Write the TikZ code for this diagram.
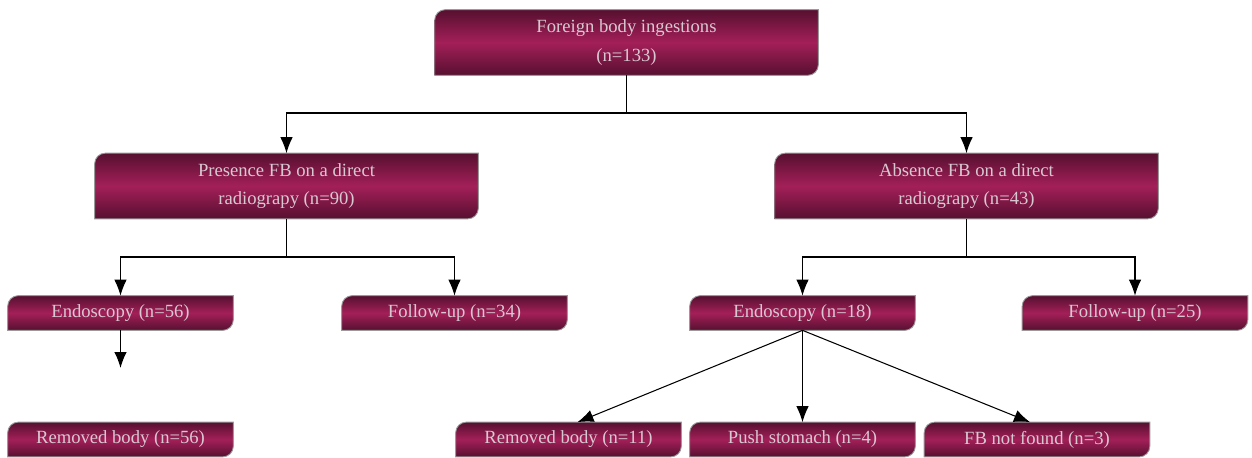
\documentclass[tikz,border=0pt]{standalone}
\usepackage{fontspec}
\setmainfont{Liberation Serif}
\usetikzlibrary{arrows.meta,backgrounds}
\definecolor{bxdark}{HTML}{561030}
\definecolor{bxmid}{HTML}{A31F58}
\definecolor{bxtext}{HTML}{D8C8D2}
\definecolor{bxedge}{HTML}{9A9A9A}
\tikzset{
  boxnode/.style={inner sep=0pt, text=bxtext, align=center,
    font=\fontsize{10.6pt}{16pt}\selectfont},
  bigbox/.style={boxnode, minimum width=7.66cm, minimum height=1.3cm},
  smallbox/.style={boxnode, minimum width=4.5cm, minimum height=0.68cm},
  boxshade/.style={top color=bxdark, bottom color=bxdark, middle color=bxmid, draw=bxedge, line width=0.5pt},
  arr/.style={draw=black, line width=0.6pt, -{Latex[length=0.32cm,width=0.25cm]}},
  ln/.style={draw=black, line width=0.6pt}
}
\newcommand{\boxbg}[1]{%
  \begin{scope}[on background layer]
  \path[boxshade] (#1.south west) -- ([yshift=-6pt]#1.north west) arc[start angle=180,end angle=90,radius=6pt]
    -- (#1.north east) -- ([yshift=6pt]#1.south east) arc[start angle=0,end angle=-90,radius=6pt] -- cycle;
  \end{scope}}
\begin{document}
\begin{tikzpicture}[x=0.02cm,y=0.02cm]
\useasboundingbox (0,0) rectangle (1252,457);
\node[bigbox] (top) at (626.5,414.5) {Foreign body ingestions\\(n=133)};
\node[bigbox] (pres) at (286.5,271) {Presence FB on a direct\\radiograpy (n=90)};
\node[bigbox] (abs) at (966.5,271) {Absence FB on a direct\\radiograpy (n=43)};
\node[smallbox] (e56) at (120.5,144) {Endoscopy (n=56)};
\node[smallbox] (f34) at (454.5,144) {Follow-up (n=34)};
\node[smallbox] (e18) at (802.5,144) {Endoscopy (n=18)};
\node[smallbox] (f25) at (1135,144) {Follow-up (n=25)};
\node[smallbox] (r56) at (120.5,17.5) {Removed body (n=56)};
\node[smallbox] (r11) at (568.5,17.5) {Removed body (n=11)};
\node[smallbox] (ps) at (802.5,17.5) {Push stomach (n=4)};
\node[smallbox] (fb) at (1037,17.5) {FB not found (n=3)};
\foreach \n in {top,pres,abs,e56,f34,e18,f25,r56,r11,ps,fb}{\boxbg{\n}}
\coordinate (j1) at (626.5,344);
\coordinate (j2) at (286.5,200);
\coordinate (j3) at (966.5,200);
\coordinate (e56end) at (120.5,89);
\draw[ln] (top.south) -- (j1);
\draw[arr] (j1) -| (pres.north);
\draw[arr] (j1) -| (abs.north);
\draw[ln] (pres.south) -- (j2);
\draw[arr] (j2) -| (e56.north);
\draw[arr] (j2) -| (f34.north);
\draw[ln] (abs.south) -- (j3);
\draw[arr] (j3) -| (e18.north);
\draw[arr] (j3) -| (f25.north);
\draw[arr] (e56.south) -- (e56end);
\draw[arr] (e18.south) -- ([xshift=0.18cm]r11.north);
\draw[arr] (e18.south) -- (ps.north);
\draw[arr] (e18.south) -- ([xshift=-0.14cm]fb.north);
\end{tikzpicture}
\end{document}
